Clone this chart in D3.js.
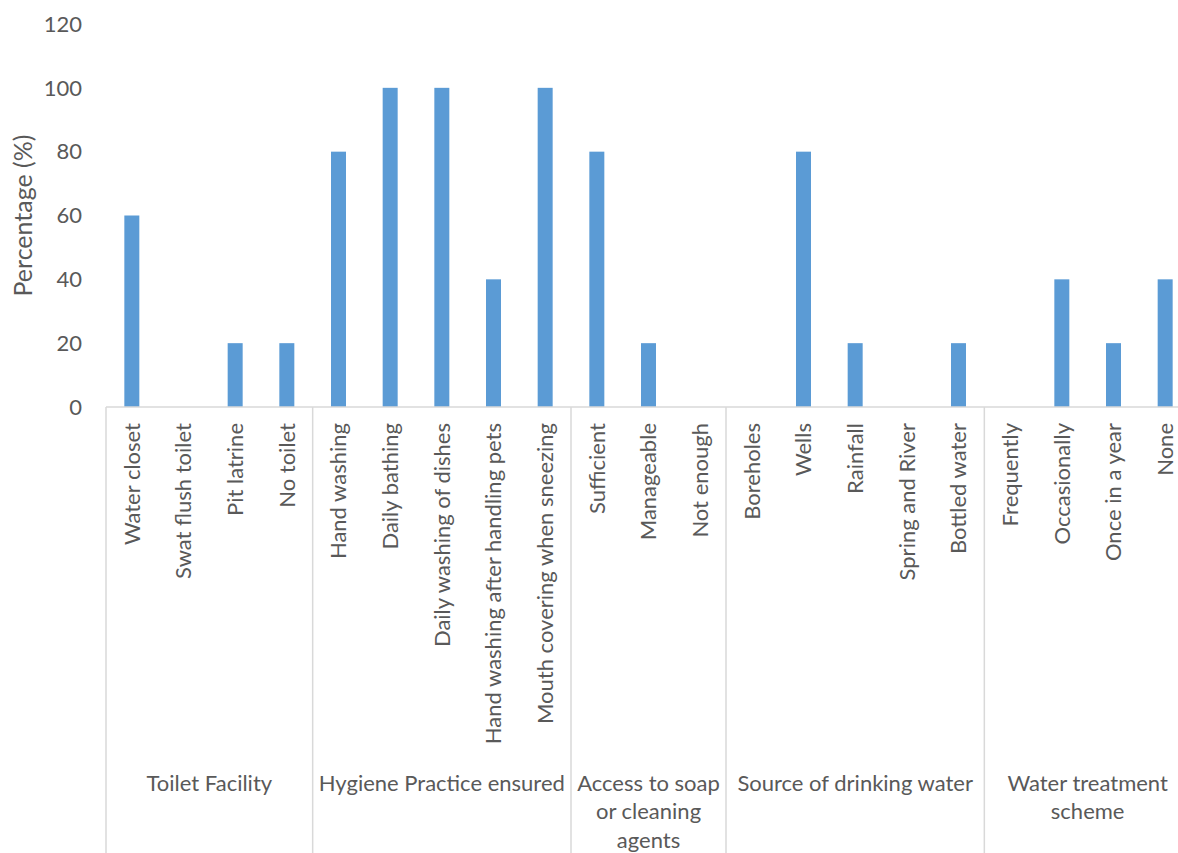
<!DOCTYPE html>
<html>
<head>
<meta charset="utf-8">
<script src="https://cdn.jsdelivr.net/npm/d3@7"></script>
<style>
  body { margin: 0; background: #fff; }
  text { font-family: Lato, "Open Sans", sans-serif; fill: #595959; }
</style>
</head>
<body>
<svg id="chart" width="1178" height="853"></svg>
<script>
// data
var groupLines = [["Toilet Facility"], ["Hygiene Practice ensured"], ["Access to soap", "or cleaning", "agents"],
                  ["Source of drinking water"], ["Water treatment", "scheme"]];
var categories = [
  ["Water closet", "Swat flush toilet", "Pit latrine", "No toilet"],
  ["Hand washing", "Daily bathing", "Daily washing of dishes", "Hand washing after handling pets", "Mouth covering when sneezing"],
  ["Sufficient", "Manageable", "Not enough"],
  ["Boreholes", "Wells", "Rainfall", "Spring and River", "Bottled water"],
  ["Frequently", "Occasionally", "Once in a year", "None"]
];
var values = [
  [60, 0, 20, 20],
  [80, 100, 100, 40, 100],
  [80, 20, 0],
  [0, 80, 20, 0, 20],
  [0, 40, 20, 40]
];
var yTicks = [0, 20, 40, 60, 80, 100, 120];

var rows = [];
categories.forEach(function(cats, g) {
  cats.forEach(function(c, i) {
    rows.push({group: g, name: c, value: values[g][i], idx: rows.length});
  });
});

var fontSize = 22;
var svg = d3.select("#chart");

var x = d3.scaleBand()
  .domain(rows.map(function(d){ return d.idx; }))
  .range([106, 1191])
  .padding(0);

var y = d3.scaleLinear().domain([0, 120]).range([407, 24]);

var barW = 15;

// y tick labels (no axis line, no gridlines)
svg.append("g").selectAll("text")
  .data(yTicks)
  .enter().append("text")
  .attr("x", 82)
  .attr("y", function(d){ return y(d); })
  .attr("dy", "0.35em")
  .attr("text-anchor", "end")
  .style("font-size", fontSize + "px")
  .text(function(d){ return d; });

// y title
svg.append("text")
  .attr("transform", "translate(23," + ((y(0) + y(120)) / 2) + ") rotate(-90)")
  .attr("text-anchor", "middle")
  .attr("dy", "0.35em")
  .style("font-size", "25px")
  .text("Percentage (%)");

// bars
svg.append("g").selectAll("rect")
  .data(rows)
  .enter().append("rect")
  .attr("x", function(d){ return x(d.idx) + x.bandwidth() / 2 - barW / 2; })
  .attr("y", function(d){ return y(d.value); })
  .attr("width", barW)
  .attr("height", function(d){ return y(0) - y(d.value); })
  .attr("fill", "#5b9bd5");

// x axis line
svg.append("line")
  .attr("x1", x.range()[0]).attr("x2", x.range()[1])
  .attr("y1", y(0)).attr("y2", y(0))
  .attr("stroke", "#d9d9d9").attr("stroke-width", 1.5);

// group boundaries
var bounds = [0];
var count = 0;
categories.forEach(function(c){ count += c.length; bounds.push(count); });
function bx(b) { return b < rows.length ? x(b) : x.range()[1]; }
svg.append("g").selectAll("line")
  .data(bounds)
  .enter().append("line")
  .attr("x1", bx).attr("x2", bx)
  .attr("y1", y(0))
  .attr("y2", 853)
  .attr("stroke", "#d9d9d9").attr("stroke-width", 1.5);

// category labels (rotated)
svg.append("g").selectAll("text")
  .data(rows)
  .enter().append("text")
  .attr("transform", function(d){
    return "translate(" + (x(d.idx) + x.bandwidth() / 2) + ",423) rotate(-90)";
  })
  .attr("text-anchor", "end")
  .attr("dy", "0.35em")
  .style("font-size", fontSize + "px")
  .text(function(d){ return d.name; });

// group labels
groupLines.forEach(function(lines, g) {
  var cx = (bx(bounds[g]) + bx(bounds[g + 1])) / 2;
  var t = svg.append("text")
    .attr("text-anchor", "middle")
    .style("font-size", fontSize + "px");
  lines.forEach(function(l, i) {
    t.append("tspan").attr("x", cx).attr("y", 783 + i * 28.5).attr("dy", "0.35em").text(l);
  });
});
</script>
</body>
</html>
